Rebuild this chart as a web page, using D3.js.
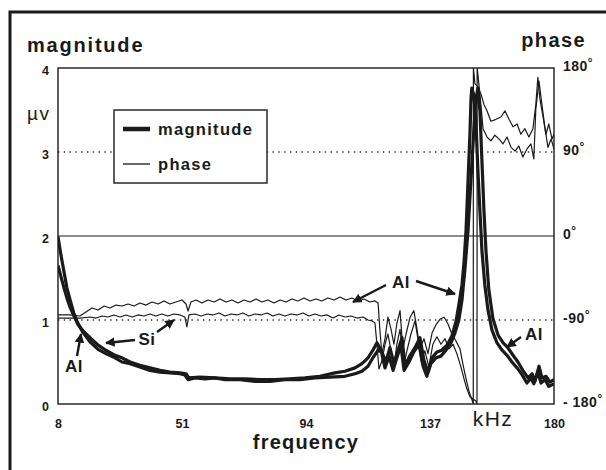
<!DOCTYPE html>
<html>
<head>
<meta charset="utf-8">
<script src="https://cdn.jsdelivr.net/npm/d3@7"></script>
<style>
  body { margin: 0; background: #fff; }
  svg text { font-family: "Liberation Sans", Arial, sans-serif; fill: #1a1a1a; }
</style>
</head>
<body>
<div id="chart"></div>
<script>
// [frequency kHz, magnitude uV]
const alMag = [
  [8,1.99],[9.04,1.77],[10.1,1.57],[11.1,1.38],[12.2,1.24],[13.5,1.08],[14.9,0.96],[16.7,0.85],
  [19.1,0.74],[21.9,0.65],[24.6,0.60],[27.8,0.55],[30.2,0.50],[33,0.48],[36.4,0.44],[39.9,0.40],
  [43.4,0.38],[46.8,0.37],[50.3,0.36],[52,0.345],[53.1,0.29],[55.5,0.31],[59,0.30],[62.4,0.31],
  [65.9,0.29],[71.1,0.29],[76.3,0.27],[81.5,0.27],[86.7,0.29],[91.9,0.29],[97.1,0.31],[102.3,0.32],
  [107.5,0.33],[111,0.36],[113.4,0.39],[115.5,0.45],[117.2,0.55],[119,0.64],
  [120.3,0.62],[121.7,0.50],[123.1,0.67],[124.5,0.48],[125.9,0.64],[127.3,0.79],[128.3,0.46],
  [130.1,0.58],[131.8,0.67],[133.5,0.79],[134.9,0.52],[136.3,0.38],[137.7,0.55],[139.4,0.62],
  [141.1,0.64],[142.9,0.70],[144.6,0.81],[146,0.98],[147,1.18],[148.1,1.42],[148.8,1.69],
  [149.5,2.07],[150.2,2.67],[150.9,3.26],[151.2,3.62],[151.5,3.76],[152.2,3.68],[152.9,3.38],
  [153.6,2.79],[154.3,2.31],[155,1.83],[156,1.42],[157.1,1.12],[158.5,0.88],[160.2,0.73],
  [162,0.64],[163.7,0.58],[165.4,0.50],[167.2,0.43],[168.9,0.35],[170.6,0.25],[172,0.31],
  [173,0.24],[174.4,0.38],[175.5,0.25],[176.9,0.29],[178.2,0.21],[180,0.24]
];

const siMag = [
  [8,1.65],[9,1.52],[10.1,1.38],[11.1,1.26],[12.2,1.15],[13.5,1.05],[14.9,0.95],[16.7,0.87],
  [19.1,0.79],[21.9,0.70],[24.6,0.64],[27.8,0.58],[30.2,0.55],[33,0.50],[36.4,0.46],[39.9,0.43],
  [43.4,0.40],[46.8,0.38],[50.3,0.37],[52.4,0.36],[53.4,0.31],[57.2,0.32],[62.4,0.31],[67.6,0.30],
  [72.8,0.30],[78,0.29],[83.2,0.29],[88.4,0.30],[93.6,0.31],[98.8,0.33],[104,0.37],[107.5,0.39],
  [111,0.43],[113.4,0.48],[115.5,0.55],[117.2,0.64],[118.6,0.73],
  [120,0.64],[121.4,0.43],[122.8,0.57],[124.2,0.40],[125.5,0.55],[126.9,0.70],[128,0.40],
  [129.7,0.50],[131.4,0.62],[133.2,0.71],[134.6,0.45],[135.9,0.33],[137.3,0.48],[139.1,0.55],
  [140.8,0.57],[142.5,0.64],[144.3,0.73],[145.7,0.85],[147,1.0],[148.1,1.24],[149.1,1.60],
  [150.2,2.07],[151.2,2.67],[152.2,3.26],[152.9,3.62],[153.6,3.76],[154.3,3.50],[155,2.90],
  [155.7,2.31],[156.4,1.83],[157.4,1.36],[158.8,1.02],[160.6,0.82],[162.3,0.73],[164,0.67],
  [165.8,0.58],[167.5,0.50],[169.2,0.40],[171,0.31],[172.4,0.36],[173.4,0.27],[174.8,0.45],
  [175.8,0.31],[177.2,0.33],[178.6,0.26],[180,0.29]
];

// [frequency kHz, phase deg]
const alPhase = [
  [8,-84.6],[12.2,-84.6],[15.6,-85.7],[17.7,-81.4],[19.8,-77.1],[21.9,-79.3],[24,-75],[26,-77.1],
  [28.1,-74],[30.2,-75],[32.3,-72.9],[34.4,-75],[36.4,-71.8],[38.5,-74],[40.6,-70.7],[42.7,-72.9],
  [44.8,-69.6],[46.8,-72.9],[48.9,-70.7],[51,-68.6],[52.4,-72.9],[53.1,-80.4],[54.1,-70.7],
  [55.9,-68.6],[57.9,-71.8],[60,-68.6],[62.1,-70.7],[64.2,-67.5],[66.3,-70.7],[68.3,-68.6],
  [70.4,-71.8],[72.5,-68.6],[74.6,-70.7],[76.7,-67.5],[78.7,-70.7],[80.8,-68.6],[82.9,-71.8],
  [85,-68.6],[87.1,-70.7],[89.1,-67.5],[91.2,-69.6],[93.3,-66.4],[95.4,-69.6],[97.5,-67.5],
  [99.5,-69.6],[101.6,-66.4],[103.7,-68.6],[105.8,-65.4],[107.9,-68.6],[109.9,-66.4],[112,-69.6],
  [114.1,-67.5],[116.2,-70.7],[117.9,-69.6],[119,-71.8],[119.6,-99.6],[120.3,-126],[121.4,-110],
  [122.4,-87],[123.5,-100],[124.5,-116],[125.5,-94],[126.6,-80],[127.6,-121],[128.7,-105],
  [130.1,-87],[131.4,-80],[132.5,-100],[133.5,-121],[134.9,-110],[136.3,-126],[137.7,-104],
  [139.1,-95],[140.5,-89],[141.9,-87],[143.2,-94],[144.6,-105],[146,-112.5],[147.4,-121],
  [148.4,-137],[149.5,-153],[150.5,-166],[151.5,-175],[152,-180],[152.05,180],[152.6,163],
  [153.6,160],[154.7,152],[155.7,141],[156.8,134],[158.1,123],[159.9,125],[161.6,127.5],
  [163,134],[164.4,125],[165.8,117],[167.2,120],[168.5,109],[169.9,115],[171.3,106],[172.7,115],
  [173.7,141],[174.4,170],[175.1,147],[176.2,127.5],[177.2,109],[178.2,120],[179.3,104],[180,109]
];

const siPhase = [
  [8,-87.9],[12.2,-87.9],[15.6,-87.9],[19.1,-86.8],[21.2,-87.9],[23.3,-85.7],[25.3,-86.8],
  [27.4,-84.6],[29.5,-86.8],[31.6,-84.6],[33.7,-86.8],[35.7,-84.6],[37.8,-85.7],[39.9,-83.6],
  [41.9,-85.7],[44,-83.6],[46.1,-85.7],[48.2,-83.6],[50.3,-84.6],[52,-86.8],[52.7,-97.5],
  [53.4,-84.6],[55.5,-83.6],[57.6,-85.7],[59.7,-83.6],[61.7,-84.6],[63.8,-82.5],[65.9,-85.7],
  [68,-83.6],[70.1,-84.6],[72.1,-82.5],[74.2,-85.7],[76.3,-83.6],[78.4,-84.6],[80.5,-82.5],
  [82.5,-85.7],[84.6,-83.6],[86.7,-85.7],[88.8,-83.6],[90.9,-84.6],[93,-82.5],[95,-85.7],
  [97.1,-83.6],[99.2,-85.7],[101.3,-84.6],[103.4,-87.9],[105.4,-84.6],[107.5,-86.8],[109.6,-85.7],
  [111.7,-87.9],[113.8,-86.8],[115.5,-90],[116.9,-91],[117.9,-93],[118.6,-116],[119.3,-142.5],
  [120.3,-134],[121.4,-116],[122.4,-105],[123.5,-123],[124.5,-140],[125.5,-116],[126.6,-100],
  [128,-137],[129,-123],[130.4,-105],[131.8,-91],[132.8,-110],[133.9,-134],[135.2,-123],
  [136.6,-140],[138,-116],[139.4,-108],[140.8,-116],[142.2,-110],[143.6,-121],[145,-116],
  [146.3,-126],[147.7,-140],[148.8,-153],[149.8,-164],[150.9,-172.5],[153,-177],[153.3,-180],
  [153.35,180],[153.6,173.6],[154.3,152],[155.4,115],[156.8,106],[158.1,102],[159.5,108],
  [160.9,104],[162.3,98.6],[163.7,106],[165.1,95],[166.5,91],[167.8,96.4],[169.2,84.6],
  [170.6,93],[172,98.6],[173,82.5],[173.7,136],[174.8,166],[175.8,141],[176.9,115],[177.9,95],
  [179,104],[180,93]
];

const freqTicks = [8, 51, 94, 137, 180];
const magTicks = [0, 1, 2, 3, 4];
const phaseTicks = [-180, -90, 0, 90, 180];

const width = 606;
const height = 470;
const margin = {top: 68, left: 58, right: 52, bottom: 66};
const ink = "#1a1a1a";

const svg = d3.select("#chart")
    .append("svg")
    .attr("width", width)
    .attr("height", height);

// outer frame (right/bottom edges run off the page)
svg.append("rect")
    .attr("x", 10).attr("y", 12)
    .attr("width", 620).attr("height", 480)
    .attr("fill", "none")
    .attr("stroke", ink)
    .attr("stroke-width", 3);

/*
SCALES
*/
const xScale = d3.scaleLinear()
    .domain([8, 180])
    .range([margin.left, width - margin.right]);

const yMag = d3.scaleLinear()
    .domain([0, 4])
    .range([height - margin.bottom, margin.top]);

const yPhase = d3.scaleLinear()
    .domain([-180, 180])
    .range([height - margin.bottom, margin.top]);

/*
REFERENCE LINES
*/
svg.append("line")
    .attr("x1", xScale(8)).attr("x2", xScale(180))
    .attr("y1", yMag(2)).attr("y2", yMag(2))
    .attr("stroke", ink).attr("stroke-width", 1);

[1, 3].forEach(function(v){
    svg.append("line")
        .attr("x1", xScale(8)).attr("x2", xScale(180))
        .attr("y1", yMag(v)).attr("y2", yMag(v))
        .attr("stroke", "#333").attr("stroke-width", 1.3)
        .attr("stroke-dasharray", "1.4,4.4");
});

/*
CURVES
*/
svg.append("clipPath").attr("id", "plotClip")
    .append("rect")
    .attr("x", xScale(8)).attr("y", yMag(4))
    .attr("width", xScale(180) - xScale(8))
    .attr("height", yMag(0) - yMag(4));

const plot = svg.append("g").attr("clip-path", "url(#plotClip)");

const magLine = d3.line()
    .x(function(d){ return xScale(d[0]); })
    .y(function(d){ return yMag(d[1]); });

const phaseLine = d3.line()
    .x(function(d){ return xScale(d[0]); })
    .y(function(d){ return yPhase(d[1]); });

[alPhase, siPhase].forEach(function(s){
    plot.append("path")
        .datum(s)
        .attr("d", phaseLine)
        .attr("fill", "none")
        .attr("stroke", ink)
        .attr("stroke-width", 1.2)
        .attr("stroke-linejoin", "round");
});

[alMag, siMag].forEach(function(s){
    plot.append("path")
        .datum(s)
        .attr("d", magLine)
        .attr("fill", "none")
        .attr("stroke", ink)
        .attr("stroke-width", 3.2)
        .attr("stroke-linejoin", "round");
});

// plot box
svg.append("rect")
    .attr("x", xScale(8)).attr("y", yMag(4))
    .attr("width", xScale(180) - xScale(8))
    .attr("height", yMag(0) - yMag(4))
    .attr("fill", "none")
    .attr("stroke", ink)
    .attr("stroke-width", 1.4);

/*
AXES
*/
const leftAxis = svg.append("g")
    .attr("transform", `translate(${margin.left},0)`)
    .call(d3.axisLeft(yMag).tickValues(magTicks).tickSize(0).tickPadding(9).tickFormat(d3.format("d")));

const rightAxis = svg.append("g")
    .attr("transform", `translate(${width - margin.right},0)`)
    .call(d3.axisRight(yPhase).tickValues(phaseTicks).tickSize(0).tickPadding(9));

const bottomAxis = svg.append("g")
    .attr("transform", `translate(0,${height - margin.bottom})`)
    .call(d3.axisBottom(xScale).tickValues(freqTicks).tickSize(0).tickPadding(15));

[leftAxis, rightAxis, bottomAxis].forEach(function(a){
    a.select(".domain").remove();
    a.selectAll("text")
        .style("font-family", "'Liberation Sans', Arial, sans-serif")
        .style("font-weight", "bold")
        .style("font-size", "12.5px")
        .attr("fill", ink);
});
leftAxis.selectAll("text").attr("dy", "0.55em");
rightAxis.selectAll("text")
    .attr("dy", "0.2em")
    .style("font-size", "14px")
    .style("letter-spacing", "0.5px");

rightAxis.selectAll("text").each(function(d){
    const t = d3.select(this);
    t.text(null);
    t.append("tspan").text(d === -180 ? "- 180" : d);
    t.append("tspan").attr("dy", "-0.4em").style("font-size", "12px").text("°");
});

/*
AXIS TITLES
*/
function label(x, y, txt, size, anchor, spacing, weight){
    return svg.append("text")
        .attr("x", x).attr("y", y)
        .attr("text-anchor", anchor)
        .style("font-size", size + "px")
        .style("font-weight", weight || "bold")
        .style("letter-spacing", spacing + "px")
        .text(txt);
}

label(27, 52, "magnitude", 20, "start", 1.8);
label(586, 47, "phase", 20, "end", 1.4);
label(27, 120, "µv", 19, "start", 1.5, "normal");
label(306, 449, "frequency", 20, "middle", 1.2);
label(493, 426, "kHz", 21, "middle", 1.5, "normal");

/*
LEGEND
*/
svg.append("rect")
    .attr("x", 114).attr("y", 110)
    .attr("width", 153).attr("height", 73)
    .attr("fill", "#fff")
    .attr("stroke", ink)
    .attr("stroke-width", 1.4);

const legendItems = [
    {name: "magnitude", w: 4.5},
    {name: "phase", w: 1.3}
];
legendItems.forEach(function(d, i){
    const ly = 129 + i * 35;
    svg.append("line")
        .attr("x1", 123).attr("x2", 150)
        .attr("y1", ly).attr("y2", ly)
        .attr("stroke", ink).attr("stroke-width", d.w);
    label(158, ly + 6, d.name, 16.5, "start", 1.3);
});

/*
ANNOTATIONS
*/
svg.append("defs").append("marker")
    .attr("id", "arrow")
    .attr("viewBox", "0 0 10 10")
    .attr("refX", 9).attr("refY", 5)
    .attr("markerWidth", 4).attr("markerHeight", 4)
    .attr("orient", "auto")
    .append("path")
    .attr("d", "M0,0 L10,5 L0,10 Z")
    .attr("fill", ink);

const arrows = [
    [77, 356, 81, 334],
    [135, 340, 106, 343],
    [157, 332, 174, 320],
    [386, 285, 353, 302],
    [416, 281, 455, 294],
    [521, 337, 507, 347]
];
arrows.forEach(function(a){
    svg.append("line")
        .attr("x1", a[0]).attr("y1", a[1])
        .attr("x2", a[2]).attr("y2", a[3])
        .attr("stroke", ink).attr("stroke-width", 2.4)
        .attr("marker-end", "url(#arrow)");
});

label(74, 372, "Al", 17, "middle", 0.5);
label(147, 345, "Si", 17, "middle", 0.5);
label(401, 288, "Al", 17, "middle", 0.5);
label(534, 340, "Al", 17, "middle", 0.5);
</script>
</body>
</html>
